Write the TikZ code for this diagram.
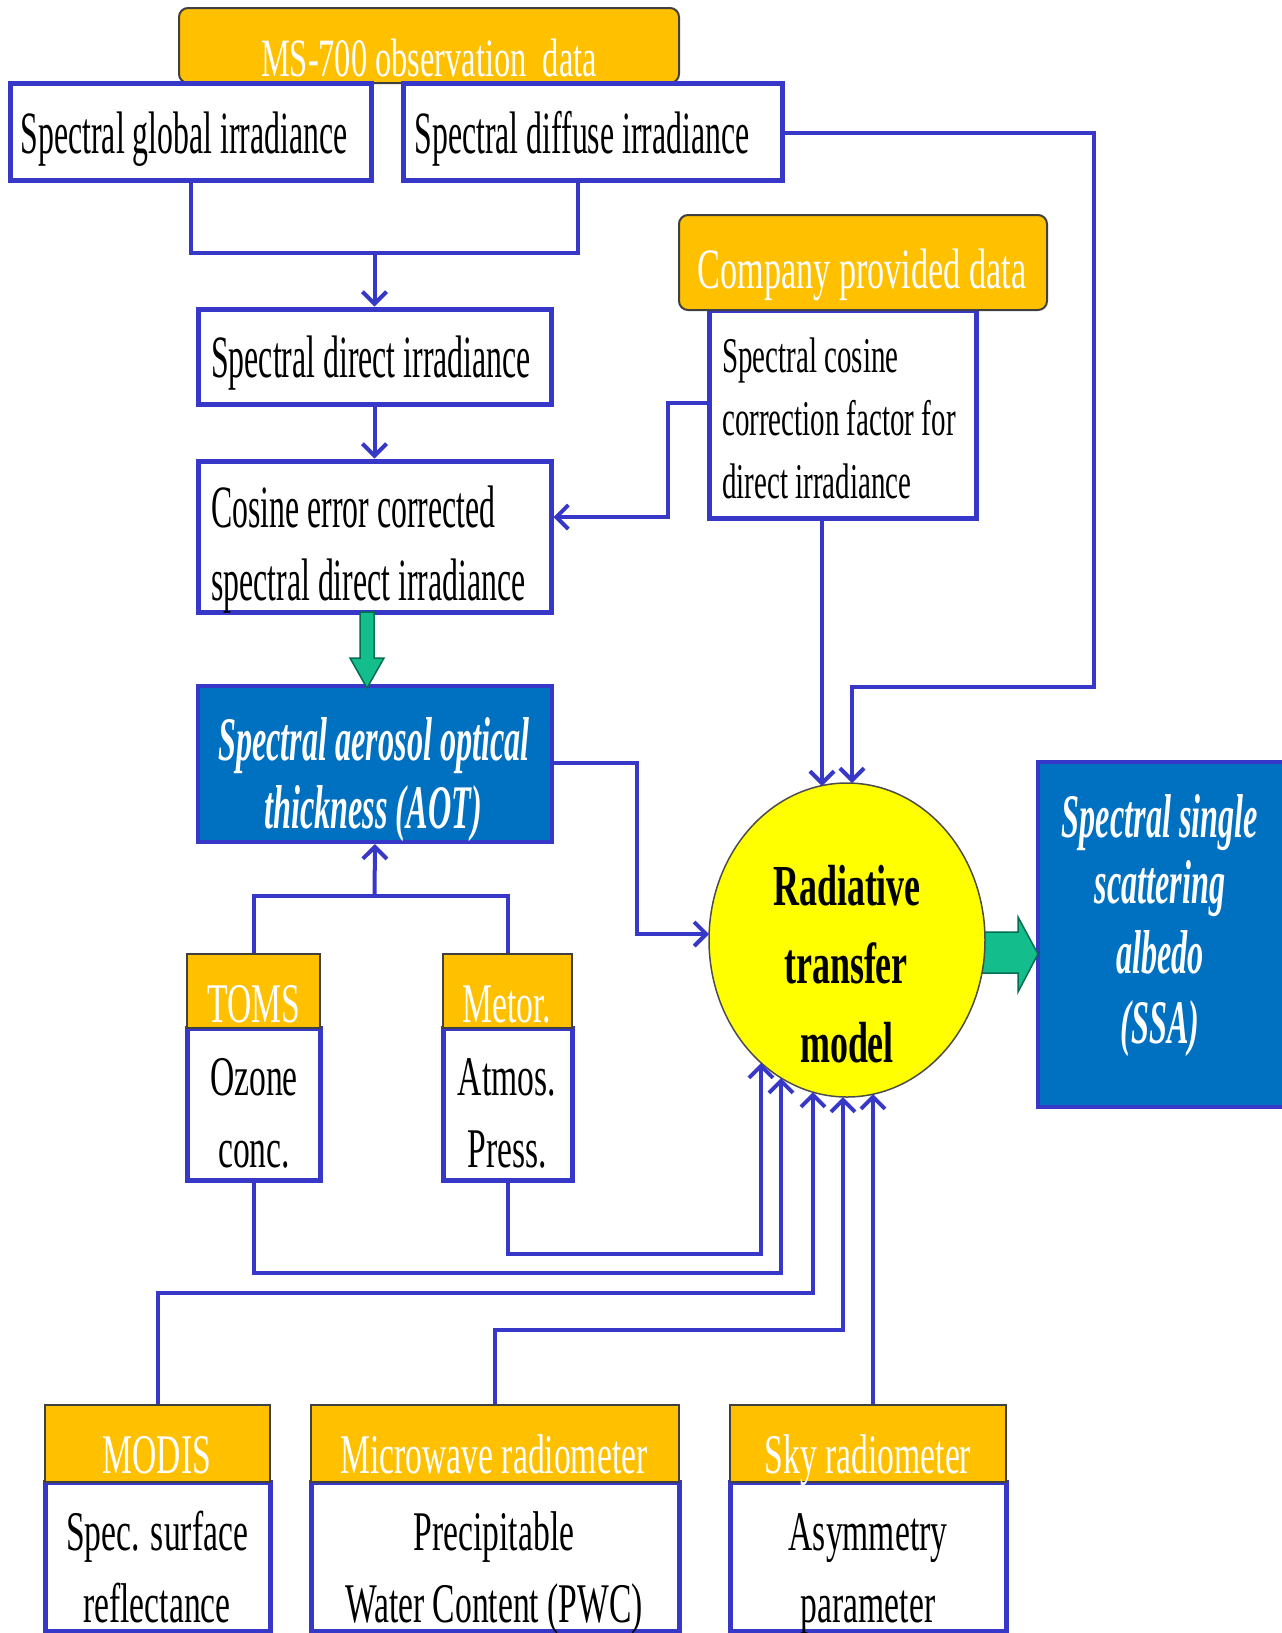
\documentclass[tikz,border=0pt]{standalone}
\usepackage{fontspec}
\setmainfont{Liberation Serif}
\newfontfamily\fN[FakeStretch=0.53]{Liberation Serif}
\newfontfamily\fH[FakeStretch=0.6]{Liberation Serif}
\newfontfamily\fC[FakeStretch=0.58]{Liberation Serif}
\newfontfamily\fBI[FakeStretch=0.52]{Liberation Serif}
\newfontfamily\fB[FakeStretch=0.62]{Liberation Serif}
\usetikzlibrary{arrows.meta,fit,shapes.geometric}
\definecolor{lb}{RGB}{55,55,200}
\definecolor{gold}{RGB}{255,192,0}
\definecolor{boxblue}{RGB}{0,112,192}
\definecolor{grn}{RGB}{20,190,140}
\definecolor{dgrn}{RGB}{0,110,80}
\definecolor{yel}{RGB}{255,255,0}
\begin{document}
\begin{tikzpicture}[x=1pt,y=1pt,
  wbox/.style={draw=lb, line width=5pt, fill=white, inner sep=0pt},
  bbox/.style={draw=lb, line width=4pt, fill=boxblue, inner sep=0pt},
  hdr/.style={draw=black!75, line width=2pt, fill=gold, inner sep=0pt},
  rhdr/.style={hdr, rounded corners=9pt},
  conn/.style={draw=lb, line width=4pt},
  arr/.style={conn, -{Straight Barb[length=12pt,width=24pt,line width=4pt]}},
  gblock/.style={fill=grn, draw=dgrn, line width=1.5pt},
  tN/.style={inner sep=0pt, anchor=base, font=\fN\fontsize{60}{60}\selectfont},
  tNl/.style={tN, anchor=base west},
  tS/.style={inner sep=0pt, anchor=base, font=\fH\fontsize{56}{56}\selectfont},
  tH/.style={inner sep=0pt, anchor=base, text=white, font=\fH\fontsize{56}{56}\selectfont},
  tC/.style={inner sep=0pt, anchor=base west, font=\fC\fontsize{50}{50}\selectfont},
  tBI/.style={inner sep=0pt, anchor=base, text=white, font=\fBI\bfseries\itshape\fontsize{62}{62}\selectfont},
  tB/.style={inner sep=0pt, anchor=base, font=\fB\bfseries\fontsize{58}{58}\selectfont}
]
\useasboundingbox (0,0) rectangle (1282,-1633);

% ---------- boxes ----------
\node[rhdr, fit={(179,-8) (679,-83)}] (msh) {};
\node[wbox, fit={(10,-83) (371,-180)}] (glob) {};
\node[wbox, fit={(403,-83) (782,-180)}] (dif) {};
\node[wbox, fit={(198,-309) (551,-404)}] (dir) {};
\node[wbox, fit={(198,-461) (551,-612)}] (cos) {};
\node[wbox, fit={(709,-310) (976,-518)}] (cbody) {};
\node[rhdr, fit={(679,-215) (1047,-310)}] (ch) {};
\node[bbox, fit={(198,-686) (552,-842)}] (aot) {};
\node[bbox, fit={(1038,-762) (1284,-1107)}] (ssa) {};

\node[wbox, fit={(187,-1028) (320,-1180)}] (tomsb) {};
\node[hdr, fit={(187,-954) (320,-1028)}] (tomsh) {};
\node[wbox, fit={(443,-1028) (572,-1180)}] (metorb) {};
\node[hdr, fit={(443,-954) (572,-1028)}] (metorh) {};

\node[wbox, fit={(45,-1482) (270,-1631)}] (modisb) {};
\node[hdr, fit={(45,-1405) (270,-1482)}] (modish) {};
\node[wbox, fit={(311,-1482) (679,-1631)}] (microb) {};
\node[hdr, fit={(311,-1405) (679,-1482)}] (microh) {};
\node[wbox, fit={(730,-1482) (1006,-1631)}] (skyb) {};
\node[hdr, fit={(730,-1405) (1006,-1482)}] (skyh) {};

% ---------- green block arrows ----------
\draw[gblock] (360,-612) -- (374,-612) -- (374,-658) -- (384,-658) -- (367,-688) -- (350,-658) -- (360,-658) -- cycle;
\draw[gblock] (960,-932) -- (1018,-932) -- (1018,-917) -- (1038,-954) -- (1018,-992) -- (1018,-973) -- (960,-973) -- cycle;

\node[ellipse, draw=black!70, line width=1.5pt, fill=yel, minimum width=276pt, minimum height=314pt, inner sep=0pt] (rtm) at (847,-940) {};

% ---------- way points ----------
\coordinate (j1) at (374.5,-253);
\coordinate (c1) at (668,-403);
\coordinate (c2) at (668,-517);
\coordinate (e1) at (822,-786);
\coordinate (r1) at (1094,-133);
\coordinate (r2) at (1094,-687);
\coordinate (r3) at (852,-687);
\coordinate (e2) at (852,-783);
\coordinate (a1) at (637,-763);
\coordinate (a2) at (637,-934);
\coordinate (e3) at (709,-934);
\coordinate (j2) at (374.5,-896);
\coordinate (m1) at (761,-1254);
\coordinate (e4) at (761,-1063);
\coordinate (t1) at (781,-1273);
\coordinate (e5) at (781,-1078);
\coordinate (d1) at (813,-1293);
\coordinate (e6) at (813,-1092);
\coordinate (w1) at (843,-1330);
\coordinate (e7) at (843,-1097);
\coordinate (e8) at (873,-1094);

% ---------- connectors ----------
\draw[conn] (glob.south) |- (j1) -| ([xshift=-15pt]dif.south);
\draw[arr] (j1) -- (dir.north);
\draw[arr] (dir.south) -- (cos.north);
\draw[arr] (cbody.west |- c1) -- (c1) -- (c2) -- (cos.east |- c2);
\draw[arr] (e1 |- cbody.south) -- (e1);
\draw[arr] (dif.east |- r1) -- (r1) -- (r2) -- (r3) -- (e2);
\draw[arr] (aot.east |- a1) -- (a1) -- (a2) -- (e3);
\draw[conn] (tomsh.north) |- (j2) -| (metorh.north);
\draw[arr] (j2) -- (aot.south);
\draw[arr] (metorb.south) |- (m1) -- (e4);
\draw[arr] (tomsb.south) |- (t1) -- (e5);
\draw[arr] (modish.north) |- (d1) -- (e6);
\draw[arr] (microh.north) |- (w1) -- (e7);
\draw[arr] (e8 |- skyh.north) -- (e8);

% ---------- texts ----------
\node[tH, font=\fH\fontsize{54}{54}\selectfont] (tms) at (429,-76) {MS-700 observation\ \ data};
\node[tN] (tglob) at (184,-153) {Spectral global irradiance};
\node[tN] (tdif) at (582,-153) {Spectral diffuse irradiance};
\node[tN] (tdir) at (371,-377) {Spectral direct irradiance};
\node[tNl] (tcos1) at (211,-527) {Cosine error corrected};
\node[tNl] (tcos2) at (211,-600) {spectral direct irradiance};
\node[tH, font=\fH\fontsize{57}{57}\selectfont] (tch) at (862,-288) {Company provided\ data};
\node[tC] (tcb1) at (722,-372) {Spectral cosine};
\node[tC] (tcb2) at (722,-435) {correction factor for};
\node[tC] (tcb3) at (722,-498) {direct irradiance};
\node[tBI] (taot1) at (374,-760) {Spectral aerosol optical};
\node[tBI] (taot2) at (373,-828) {thickness (AOT)};
\node[tB] (trtm1) at (847,-905) {Radiative};
\node[tB] (trtm2) at (846,-983) {transfer};
\node[tB] (trtm3) at (847,-1062) {model};
\node[tBI] (tssa1) at (1160,-837) {Spectral single};
\node[tBI] (tssa2) at (1160,-903) {scattering};
\node[tBI] (tssa3) at (1160,-973) {albedo};
\node[tBI] (tssa4) at (1160,-1043) {(SSA)};
\node[tH] (ttoms) at (254,-1022) {TOMS};
\node[tS] (toz1) at (254,-1095) {Ozone};
\node[tS] (toz2) at (254,-1167) {conc.};
\node[tH] (tmet) at (507,-1022) {Metor.};
\node[tS] (tat1) at (507,-1095) {Atmos.};
\node[tS] (tat2) at (507,-1167) {Press.};
\node[tH] (tmod) at (157,-1473) {MODIS};
\node[tS] (tmo1) at (157,-1550) {Spec. surface};
\node[tS] (tmo2) at (157,-1622) {reflectance};
\node[tH] (tmic) at (494,-1473) {Microwave radiometer};
\node[tS] (tmi1) at (494,-1550) {Precipitable};
\node[tS] (tmi2) at (494,-1622) {Water Content (PWC)};
\node[tH] (tsky) at (868,-1473) {Sky radiometer};
\node[tS] (tsk1) at (868,-1550) {Asymmetry};
\node[tS] (tsk2) at (868,-1622) {parameter};
\end{tikzpicture}
\end{document}
